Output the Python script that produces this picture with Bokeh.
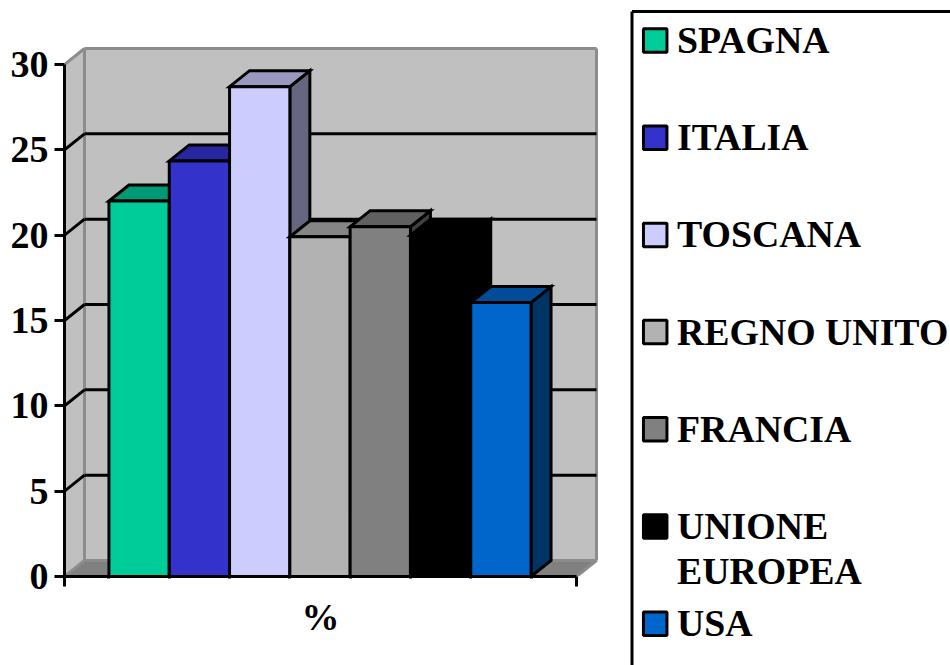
from bokeh.plotting import figure
from bokeh.layouts import row
from bokeh.models import LinearAxis, FixedTicker
from bokeh.core.properties import value
from bokeh.embed import file_html
from bokeh.resources import INLINE

categories = ["SPAGNA", "ITALIA", "TOSCANA", "REGNO UNITO", "FRANCIA", "UNIONE\nEUROPEA", "USA"]
values = [22.0, 24.35, 28.7, 19.9, 20.5, 20.0, 16.05]
front_colors = ["#00CC99", "#3333CC", "#CCCCFF", "#B2B2B2", "#808080", "#000000", "#0066CC"]
top_colors = ["#009973", "#2626A0", "#9999BF", "#858585", "#606060", "#000000", "#004C99"]
side_colors = ["#006B50", "#1A1A66", "#666680", "#595959", "#404040", "#000000", "#003366"]
y_ticks = [0, 5, 10, 15, 20, 25, 30]
axis_label = "%"

FONT = "Liberation Serif"
WALL = "#C0C0C0"
FLOOR = "#808080"
EDGE = "#8C8C8C"
W, H = 620, 665
LEG_W = 330
PX_X = 512.0            # pixels per x unit (plot width 0..1)
PX_Y = 512.0 / 30.0     # pixels per value unit
LEFT, BOTTOM = 64, 89
DX = 20 / PX_X          # depth of the 3-D box
DY = 16 / PX_Y
BAR_W = 60.3 / PX_X
LW = 3

p = figure(width=W, height=H, output_backend="svg", toolbar_location=None,
           x_range=(0, (W - LEFT) / PX_X), y_range=(0, (H - BOTTOM) / PX_Y),
           x_axis_type=None, y_axis_type=None, frame_align=False,
           min_border_left=LEFT, min_border_right=0, min_border_top=0, min_border_bottom=BOTTOM,
           background_fill_color="white", border_fill_color="white", outline_line_color=None)
p.grid.visible = False

vmax = y_ticks[-1]
# walls
p.patch([DX, 1 + DX, 1 + DX, DX], [DY, DY, vmax + DY, vmax + DY], fill_color=WALL, line_color=None)
p.patch([0, DX, DX, 0], [0, DY, vmax + DY, vmax], fill_color=WALL, line_color=None)
p.patch([0, 1, 1 + DX, DX], [0, 0, DY, DY], fill_color=FLOOR, line_color=None)
# wall edges
p.segment([DX, DX, 1 + DX, DX, 0, 0, 1], [DY, vmax + DY, DY, DY, 0, vmax, 0],
          [DX, 1 + DX, 1 + DX, 1 + DX, DX, DX, 1 + DX], [vmax + DY, vmax + DY, vmax + DY, DY, DY, vmax + DY, DY],
          line_color=EDGE, line_width=LW)
# gridlines
inner = y_ticks[1:-1]
p.segment([DX] * len(inner), [t + DY for t in inner], [1 + DX] * len(inner), [t + DY for t in inner],
          line_color="black", line_width=LW)
p.segment([0] * len(inner), inner, [DX] * len(inner), [t + DY for t in inner],
          line_color="black", line_width=LW)

# bars
start = (1 - len(values) * BAR_W) / 2 - 0.5 / PX_X
edges = [start + i * BAR_W for i in range(len(values) + 1)]
for i, (name, v) in enumerate(zip(categories, values)):
    x0, x1 = edges[i], edges[i + 1]
    p.patch([x1, x1 + DX, x1 + DX, x1], [0, DY, v + DY, v], fill_color=side_colors[i],
            line_color="black", line_width=LW, line_join="miter")
    p.patch([x0, x1, x1 + DX, x0 + DX], [v, v, v + DY, v + DY], fill_color=top_colors[i],
            line_color="black", line_width=LW, line_join="miter")
    p.vbar(x=[(x0 + x1) / 2], top=[v], bottom=0, width=BAR_W, fill_color=front_colors[i],
           line_color="black", line_width=LW)

# axes
ay = LinearAxis(ticker=FixedTicker(ticks=y_ticks), bounds=(0, vmax))
ay.axis_line_color = "black"; ay.axis_line_width = LW
ay.major_tick_line_color = "black"; ay.major_tick_line_width = LW
ay.major_tick_in = 0; ay.major_tick_out = 10
ay.minor_tick_line_color = None
ay.major_label_text_font = FONT; ay.major_label_text_font_style = "bold"
ay.major_label_text_font_size = "38px"; ay.major_label_text_color = "black"
ay.major_label_standoff = 6
p.add_layout(ay, "left")

ax = LinearAxis(ticker=FixedTicker(ticks=[0, 1], minor_ticks=edges), bounds=(0, 1),
                major_label_overrides={0: "", 1: ""})
ax.axis_line_color = "black"; ax.axis_line_width = LW
ax.major_tick_line_color = "black"; ax.major_tick_line_width = LW
ax.major_tick_in = 0; ax.major_tick_out = 10
ax.minor_tick_line_color = "black"; ax.minor_tick_line_width = LW
ax.minor_tick_in = 0; ax.minor_tick_out = 2
ax.major_label_text_font_size = "1px"
ax.major_label_standoff = 0
p.add_layout(ax, "below")

ax2 = LinearAxis(ticker=FixedTicker(ticks=[0.5]), major_label_overrides={0.5: axis_label})
ax2.axis_line_color = None
ax2.major_tick_line_color = None
ax2.minor_tick_line_color = None
ax2.major_label_text_font = FONT; ax2.major_label_text_font_style = "bold"
ax2.major_label_text_font_size = "38px"; ax2.major_label_text_color = "black"
ax2.major_label_standoff = 3
p.add_layout(ax2, "below")

# legend panel: x / y in pixels of this panel (y down)
q = figure(width=LEG_W, height=H, output_backend="svg", toolbar_location=None,
           x_range=(0, LEG_W), y_range=(H, 0), x_axis_type=None, y_axis_type=None, frame_align=False,
           min_border=0, background_fill_color="white", border_fill_color="white", outline_line_color=None)
q.grid.visible = False
BOX_X, BOX_Y = 11.5, 11
q.multi_line([[BOX_X, BOX_X], [BOX_X, LEG_W]], [[H, BOX_Y], [BOX_Y, BOX_Y]], line_color="black", line_width=3)
ROW0, ROW_STEP = 40, 97.2
rows = [ROW0 + i * ROW_STEP for i in range(len(categories))]
q.rect(x=[34.7] * len(rows), y=rows, width=23.5, height=23.5, fill_color=front_colors,
       line_color="black", line_width=3)
q.text(x=[56.5] * len(rows), y=[r - 21.5 for r in rows], text=categories, text_font=value(FONT),
       text_font_style="bold", text_font_size="37.8px", text_color="black",
       text_align="left", text_baseline="top", text_line_height=1.07)

open("out.html", "w").write(file_html(row(p, q), INLINE))
